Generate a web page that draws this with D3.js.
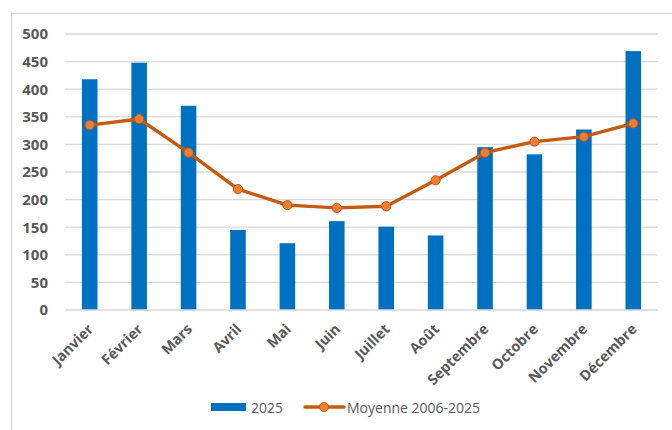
<!DOCTYPE html>
<html>
<head>
<meta charset="utf-8">
<script src="https://cdn.jsdelivr.net/npm/d3@7"></script>
<style>
  html, body { margin: 0; padding: 0; background: #fff; }
  svg { display: block; }
</style>
</head>
<body>
<svg id="chart" width="672" height="430"></svg>
<script>
// Monthly values
const months = ["Janvier", "Février", "Mars", "Avril", "Mai", "Juin", "Juillet", "Août", "Septembre", "Octobre", "Novembre", "Décembre"];
const values2025 = [418, 448, 370, 145, 121, 161, 151, 135, 295, 282, 327, 469];
const average = [335, 346, 285, 219, 190, 185, 188, 235, 285, 305, 314, 338];
const yTicks = [0, 50, 100, 150, 200, 250, 300, 350, 400, 450, 500];
const seriesNames = ["2025", "Moyenne 2006-2025"];

const svg = d3.select("#chart");
const W = 672, H = 430;
const margin = { left: 65, right: 14, top: 34, bottom: 120 };
const plotW = W - margin.left - margin.right;
const plotH = H - margin.top - margin.bottom;

const font = "'Open Sans', 'Liberation Sans', sans-serif";
const textColor = "#595959";
const barColor = "#0070C0";
const lineColor = "#C55A11";
const markerFill = "#ED7D31";

// outer chart frame
svg.append("rect")
  .attr("x", 11.5).attr("y", 13.5)
  .attr("width", W + 20).attr("height", H + 20)
  .attr("fill", "none").attr("stroke", "#D9D9D9").attr("stroke-width", 1.5);

const g = svg.append("g").attr("transform", `translate(${margin.left},${margin.top})`);

const x = d3.scaleBand().domain(months).range([0, plotW]).paddingInner(0.685).paddingOuter(0.3425);
const xc = d3.scalePoint().domain(months).range([0, plotW]).padding(0.5);
const y = d3.scaleLinear().domain([0, 500]).range([plotH, 0]);

// horizontal gridlines
g.append("g").selectAll("line").data(yTicks.filter(d => d > 0)).join("line")
  .attr("x1", 0).attr("x2", plotW)
  .attr("y1", d => y(d)).attr("y2", d => y(d))
  .attr("stroke", "#D9D9D9").attr("stroke-width", 1.3);

// y axis labels
const yAxis = d3.axisLeft(y).tickValues(yTicks).tickSize(0).tickPadding(17);
g.append("g").call(yAxis)
  .call(s => s.select(".domain").remove())
  .call(s => s.selectAll("text")
    .attr("fill", textColor).attr("font-family", font)
    .attr("font-size", 15).attr("font-weight", 700));

// bars
g.append("g").selectAll("rect").data(values2025).join("rect")
  .attr("x", (d, i) => x(months[i]))
  .attr("width", x.bandwidth())
  .attr("y", d => y(d))
  .attr("height", d => plotH - y(d))
  .attr("fill", barColor);

// baseline
g.append("line")
  .attr("x1", 0).attr("x2", plotW)
  .attr("y1", plotH).attr("y2", plotH)
  .attr("stroke", "#D9D9D9").attr("stroke-width", 1.3);

// x axis labels, rotated
const xAxis = d3.axisBottom(xc).tickSize(0).tickPadding(0);
g.append("g").attr("transform", `translate(0,${plotH})`).call(xAxis)
  .call(s => s.select(".domain").remove())
  .call(s => s.selectAll("text")
    .attr("fill", textColor).attr("font-family", font)
    .attr("font-size", 14.5).attr("font-weight", 700)
    .attr("text-anchor", "end")
    .attr("dy", null).attr("y", 0)
    .attr("transform", "translate(4,20) rotate(-45)"));

// average line
const line = d3.line().x((d, i) => xc(months[i])).y(d => y(d));
g.append("path").datum(average)
  .attr("d", line).attr("fill", "none")
  .attr("stroke", lineColor).attr("stroke-width", 3.4)
  .attr("stroke-linejoin", "round").attr("stroke-linecap", "round");

g.append("g").selectAll("circle").data(average).join("circle")
  .attr("cx", (d, i) => xc(months[i])).attr("cy", d => y(d))
  .attr("r", 4.6)
  .attr("fill", markerFill).attr("stroke", lineColor).attr("stroke-width", 1);

// legend
const lg = svg.append("g");
lg.append("rect").attr("x", 211).attr("y", 403).attr("width", 35).attr("height", 8).attr("fill", barColor);
lg.append("text").attr("x", 251).attr("y", 412.5).text(seriesNames[0])
  .attr("fill", textColor).attr("font-family", font).attr("font-size", 14);
lg.append("line").attr("x1", 305).attr("x2", 344).attr("y1", 407).attr("y2", 407)
  .attr("stroke", lineColor).attr("stroke-width", 3.4).attr("stroke-linecap", "round");
lg.append("circle").attr("cx", 324).attr("cy", 407).attr("r", 4.6)
  .attr("fill", markerFill).attr("stroke", lineColor).attr("stroke-width", 1);
lg.append("text").attr("x", 347).attr("y", 412.5).text(seriesNames[1])
  .attr("fill", textColor).attr("font-family", font).attr("font-size", 14);
</script>
</body>
</html>
